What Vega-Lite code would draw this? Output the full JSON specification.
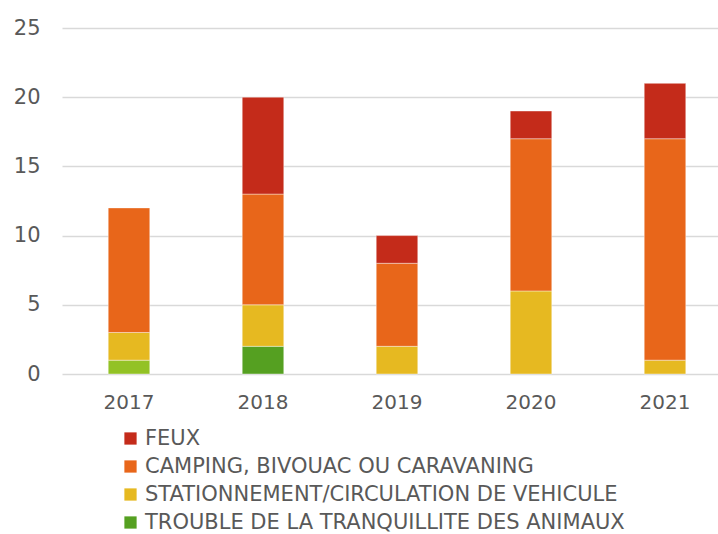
{
  "$schema": "https://vega.github.io/schema/vega-lite/v6.json",
  "autosize": {"type": "none"},
  "padding": {"left": 62, "top": 28, "right": 0, "bottom": 160},
  "width": 670,
  "height": 346,
  "background": "white",
  "data": {
    "values": [
      {"year": "2017", "cat": "TROUBLE DE LA TRANQUILLITE DES ANIMAUX", "n": 1},
      {"year": "2017", "cat": "STATIONNEMENT/CIRCULATION DE VEHICULE", "n": 2},
      {"year": "2017", "cat": "CAMPING, BIVOUAC OU CARAVANING", "n": 9},
      {"year": "2018", "cat": "TROUBLE DE LA TRANQUILLITE DES ANIMAUX", "n": 2},
      {"year": "2018", "cat": "STATIONNEMENT/CIRCULATION DE VEHICULE", "n": 3},
      {"year": "2018", "cat": "CAMPING, BIVOUAC OU CARAVANING", "n": 8},
      {"year": "2018", "cat": "FEUX", "n": 7},
      {"year": "2019", "cat": "STATIONNEMENT/CIRCULATION DE VEHICULE", "n": 2},
      {"year": "2019", "cat": "CAMPING, BIVOUAC OU CARAVANING", "n": 6},
      {"year": "2019", "cat": "FEUX", "n": 2},
      {"year": "2020", "cat": "STATIONNEMENT/CIRCULATION DE VEHICULE", "n": 6},
      {"year": "2020", "cat": "CAMPING, BIVOUAC OU CARAVANING", "n": 11},
      {"year": "2020", "cat": "FEUX", "n": 2},
      {"year": "2021", "cat": "STATIONNEMENT/CIRCULATION DE VEHICULE", "n": 1},
      {"year": "2021", "cat": "CAMPING, BIVOUAC OU CARAVANING", "n": 16},
      {"year": "2021", "cat": "FEUX", "n": 4}
    ]
  },
  "transform": [
    {"calculate": "indexof(['TROUBLE DE LA TRANQUILLITE DES ANIMAUX','STATIONNEMENT/CIRCULATION DE VEHICULE','CAMPING, BIVOUAC OU CARAVANING','FEUX'], datum.cat)", "as": "k"}
  ],
  "mark": {"type": "bar", "stroke": "#ffffff", "strokeOpacity": 0.4, "strokeWidth": 1},
  "encoding": {
    "x": {
      "field": "year", "type": "nominal", "title": null,
      "scale": {"paddingInner": 0.69, "paddingOuter": 0.345},
      "axis": {"labelAngle": 0, "domain": false, "ticks": false, "labelPadding": 18, "labelFontSize": 20, "labelColor": "#595959", "labelFont": "DejaVu Sans"}
    },
    "y": {
      "field": "n", "type": "quantitative", "aggregate": "sum", "title": null, "stack": "zero",
      "scale": {"domain": [0, 25], "nice": false},
      "axis": {"values": [0, 5, 10, 15, 20, 25], "domain": false, "ticks": false, "labelPadding": 22, "labelFontSize": 21, "labelColor": "#595959", "labelFont": "DejaVu Sans", "gridColor": "#d9d9d9", "gridWidth": 1.5}
    },
    "order": {"field": "k", "type": "quantitative", "sort": "ascending"},
    "color": {
      "field": "cat", "type": "nominal", "title": null,
      "scale": {
        "domain": ["FEUX", "CAMPING, BIVOUAC OU CARAVANING", "STATIONNEMENT/CIRCULATION DE VEHICULE", "TROUBLE DE LA TRANQUILLITE DES ANIMAUX"],
        "range": ["#c42b1a", "#e8661a", "#e6b921", "#55a021"]
      },
      "legend": {
        "orient": "none", "legendX": 58, "legendY": 400, "direction": "vertical",
        "symbolType": "square", "symbolSize": 150, "symbolStrokeWidth": 0,
        "labelFontSize": 21, "labelColor": "#595959", "labelFont": "DejaVu Sans", "labelLimit": 0,
        "rowPadding": 6, "labelOffset": 4
      },
      "condition": {"test": "datum.year == '2017' && datum.cat == 'TROUBLE DE LA TRANQUILLITE DES ANIMAUX'", "value": "#93c225"}
    }
  },
  "config": {"view": {"stroke": null}}
}
